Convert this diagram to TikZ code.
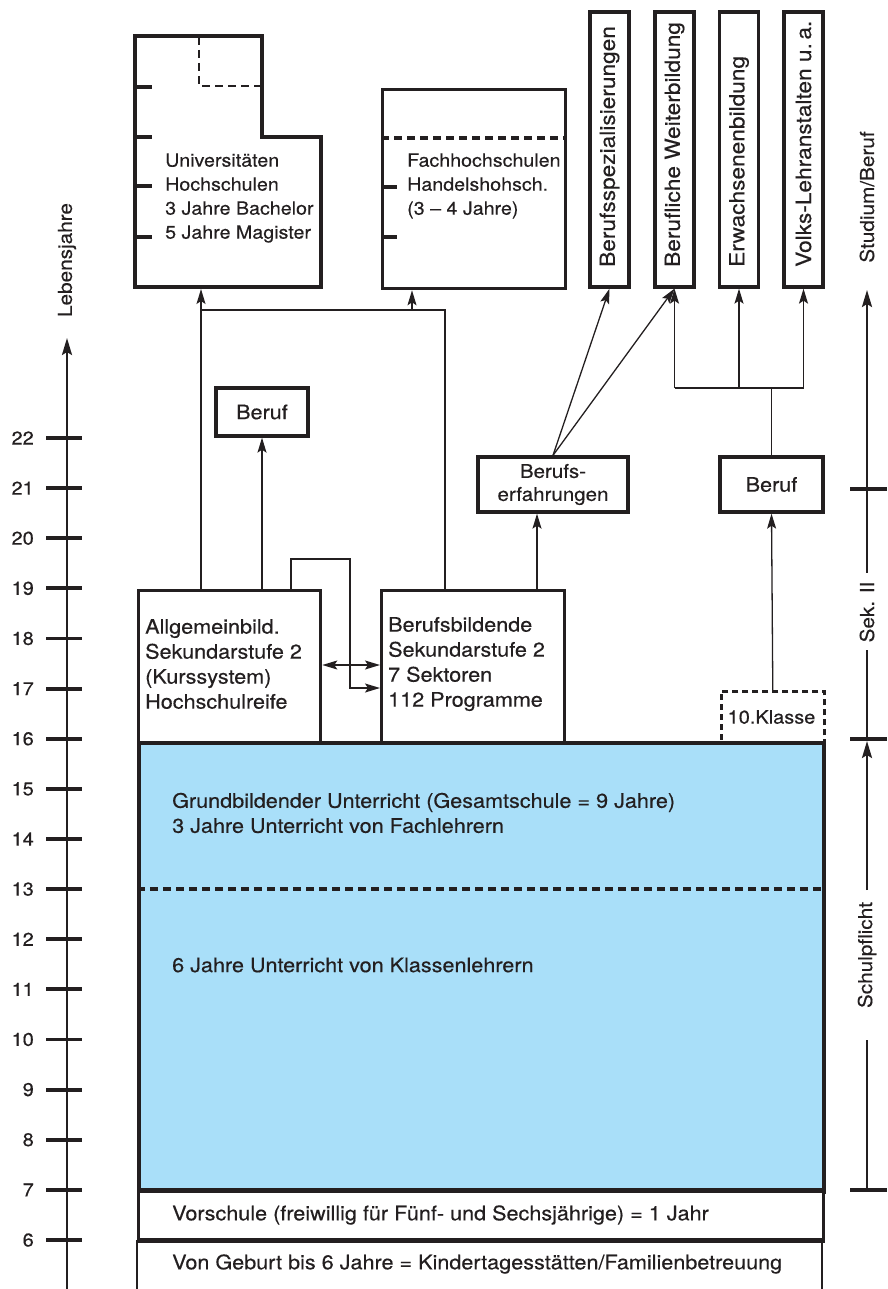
\documentclass[tikz,border=0pt]{standalone}
\usepackage{fontspec}
\setmainfont{TeX Gyre Heros}[FakeStretch=1.08, FakeBold=0.35]
\usetikzlibrary{arrows.meta}
\definecolor{ink}{HTML}{231F20}
\definecolor{sky}{HTML}{A9DFF9}
\begin{document}
\begin{tikzpicture}[x=1pt,y=-1pt,
  every node/.style={text=ink},
  thickbox/.style={draw=ink, line width=3.3pt, fill=white, inner sep=0pt},
  conn/.style={draw=ink, line width=1.3pt},
  arr/.style={conn, -{Stealth[length=15pt,width=9pt,inset=3pt]}},
  dblarr/.style={conn, {Stealth[length=15pt,width=9pt,inset=3pt]}-{Stealth[length=15pt,width=9pt,inset=3pt]}},
  axisline/.style={draw=ink, line width=2.4pt},
  axisarr/.style={axisline, -{Stealth[length=17pt,width=10pt,inset=3pt]}},
  tickline/.style={draw=ink, line width=3.8pt},
  lbl/.style={font=\fontsize{18.2}{24}\selectfont, inner sep=0pt, align=left, anchor=west},
  biglbl/.style={font=\fontsize{20}{25}\selectfont, inner sep=0pt, align=left, anchor=west},
  vlbl/.style={font=\fontsize{21}{24}\selectfont, inner sep=0pt, rotate=90, anchor=west},
  albl/.style={font=\fontsize{19.2}{24}\selectfont, inner sep=0pt, rotate=90, anchor=center},
  num/.style={font=\fontsize{18.5}{22}\selectfont, inner sep=0pt, anchor=east},
  dashedline/.style={draw=ink, line width=3.2pt, dash pattern=on 8pt off 5pt},
]
\useasboundingbox (0,0) rectangle (887,1289);

% ---------- left axis ----------
\coordinate (la0) at (67,1289);
\coordinate (la1) at (67,338);
\draw[axisarr] (la0) -- (la1);
\foreach \n in {6,...,22}{
  \pgfmathsetmacro{\yy}{1240-50.125*(\n-6)}
  \draw[tickline] (46,\yy) -- (82,\yy);
  \node[num] (n\n) at (34,\yy) {\n};
}
\node[albl] (leb) at (67,260) {Lebensjahre};

% ---------- right axis ----------
\coordinate (ra1) at (867,489);
\coordinate (ra0) at (867,290);
\draw[axisarr] (ra1) -- (ra0);
\node[albl] (stud) at (867,197) {Studium/Beruf};
\draw[tickline] (850,489) -- (887,489);
\draw[tickline] (850,739) -- (887,739);
\draw[tickline] (850,1190) -- (887,1190);
\draw[axisline] (867,489) -- (867,573);
\draw[axisline] (867,650) -- (867,739);
\node[albl] (sek) at (867,612) {Sek. II};
\draw[axisarr] (867,890) -- (867,741);
\draw[axisline] (867,1040) -- (867,1190);
\node[albl] (pflicht) at (867,955) {Schulpflicht};

% ---------- Universitaeten ----------
\coordinate (u1) at (135,36);
\coordinate (u2) at (262,36);
\coordinate (u3) at (262,137);
\coordinate (u4) at (321,137);
\coordinate (u5) at (321,287);
\coordinate (u6) at (135,287);
\draw[draw=ink, line width=3.3pt, line join=miter] (u1) -- (u2) -- (u3) -- (u4) -- (u5) -- (u6) -- cycle;
\draw[dashedline, line width=2.8pt] (199,37) -- (199,86) -- (261,86);
\foreach \yy in {87,137,186,237}{\draw[tickline, line width=3.3pt] (135,\yy) -- (152,\yy);}
\node[lbl] (unitext) at (165,198) {Universitäten\\Hochschulen\\3 Jahre Bachelor\\5 Jahre Magister};
\coordinate (unib) at (201,289);

% ---------- Fachhochschulen ----------
\node[thickbox, minimum width=183, minimum height=199, anchor=north west] (fh) at (381,88) {};
\draw[dashedline] (381,138) -- (564,138);
\foreach \yy in {187,237}{\draw[tickline, line width=3.3pt] (381,\yy) -- (397,\yy);}
\node[lbl] (fhtext) at (407,186) {Fachhochschulen\\Handelshohsch.\\(3 – 4 Jahre)};

% ---------- vertical boxes ----------
\node[thickbox, minimum width=39, minimum height=275] (v1) at (609.5,149.5) {};
\node[thickbox, minimum width=39, minimum height=275] (v2) at (674.5,149.5) {};
\node[thickbox, minimum width=39, minimum height=275] (v3) at (739,149.5) {};
\node[thickbox, minimum width=39, minimum height=275] (v4) at (803.5,149.5) {};
\node[vlbl] (v1t) at (609.5,267) {Berufsspezialisierungen};
\node[vlbl] (v2t) at (674.5,267) {Berufliche Weiterbildung};
\node[vlbl] (v3t) at (739,267) {Erwachsenenbildung};
\node[vlbl] (v4t) at (803.5,267) {Volks-Lehranstalten u.\,a.};

% ---------- middle boxes ----------
\node[thickbox, minimum width=92, minimum height=48] (beruf1) at (262,412) {};
\node[biglbl, anchor=center] (beruf1t) at (262,412) {Beruf};
\node[thickbox, minimum width=150, minimum height=55] (erf) at (553,484.5) {};
\node[lbl, anchor=center, align=center, font=\fontsize{19}{23}\selectfont] (erft) at (553,484.5) {Berufs-\\erfahrungen};
\node[thickbox, minimum width=103, minimum height=55] (beruf2) at (771.5,484.5) {};
\node[biglbl, anchor=center] (beruf2t) at (771.5,484.5) {Beruf};

% ---------- Sekundarstufe 2 boxes ----------
\node[thickbox, minimum width=182, minimum height=152, anchor=north west] (allg) at (137,589) {};
\node[biglbl] (allgt) at (145,664) {Allgemeinbild.\\Sekundarstufe 2\\(Kurssystem)\\Hochschulreife};
\node[thickbox, minimum width=183, minimum height=152, anchor=north west] (berb) at (380,589) {};
\node[biglbl] (berbt) at (388,664) {Berufsbildende\\Sekundarstufe 2\\7 Sektoren\\112 Programme};
\node[draw=ink, line width=2.6pt, dash pattern=on 6pt off 4pt, fill=white, inner sep=0pt, minimum width=103, minimum height=51, anchor=north west] (klasse) at (720,690) {};
\node[lbl, anchor=center, font=\fontsize{18.5}{20}\selectfont] (klasset) at (771.5,717) {10.Klasse};

% ---------- connectors ----------
\coordinate (j1) at (201,310);
\coordinate (j2) at (445,310);
\coordinate (fhx) at (412,310);
\draw[arr] (allg.north -| j1) -- (unib);
\draw[conn] (j1) -- (j2) -- (berb.north -| j2);
\draw[arr] (fhx) -- (fh.south -| fhx);
\draw[arr] (allg.north -| beruf1) -- (beruf1.south);
\coordinate (b1) at (291,559);
\coordinate (b2) at (350,559);
\coordinate (b3) at (350,688);
\draw[arr] (allg.north -| b1) -- (b1) -- (b2) -- (b3) -- (berb.west |- b3);
\coordinate (dy) at (0,665);
\draw[dblarr] (allg.east |- dy) -- (berb.west |- dy);
\coordinate (e1) at (537,0);
\draw[arr] (berb.north -| e1) -- (erf.south -| e1);
\draw[arr] (erf.north) -- (v1.south);
\draw[arr] (erf.north) -- (v2.south);
\coordinate (j3) at (771.5,388);
\draw[conn] (beruf2.north) -- (j3);
\draw[conn] (v2.south |- j3) -- (v4.south |- j3);
\draw[arr] (v2.south |- j3) -- (v2.south);
\draw[arr] (v3.south |- j3) -- (v3.south);
\draw[arr] (v4.south |- j3) -- (v4.south);
\draw[arr] (klasse.north) -- (beruf2.south);

% ---------- main blue block ----------
\node[draw=ink, line width=4pt, fill=sky, inner sep=0pt, minimum width=685, minimum height=449, anchor=north west] (grund) at (137,741) {};
\draw[dashedline] (137,889) -- (822,889);
\node[biglbl] (gt1) at (172,813) {Grundbildender Unterricht (Gesamtschule = 9 Jahre)\\3 Jahre Unterricht von Fachlehrern};
\node[biglbl] (gt2) at (172,965) {6 Jahre Unterricht von Klassenlehrern};

\node[draw=ink, line width=3pt, fill=white, inner sep=0pt, minimum width=685, minimum height=50, anchor=north west] (vor) at (137,1190) {};
\node[biglbl] (vort) at (172,1215) {Vorschule (freiwillig für Fünf- und Sechsjährige) = 1 Jahr};
\draw[draw=ink, line width=3.2pt] (137,1240) -- (822,1240);
\draw[draw=ink, line width=2.4pt] (137,1240) -- (137,1289);
\draw[draw=ink, line width=2.4pt] (822,1240) -- (822,1289);
\node[biglbl] (kitat) at (172,1264) {Von Geburt bis 6 Jahre = Kindertagesstätten/Familienbetreuung};
\draw[draw=ink, line width=4.5pt] (137,1190) -- (822,1190);
\end{tikzpicture}
\end{document}
